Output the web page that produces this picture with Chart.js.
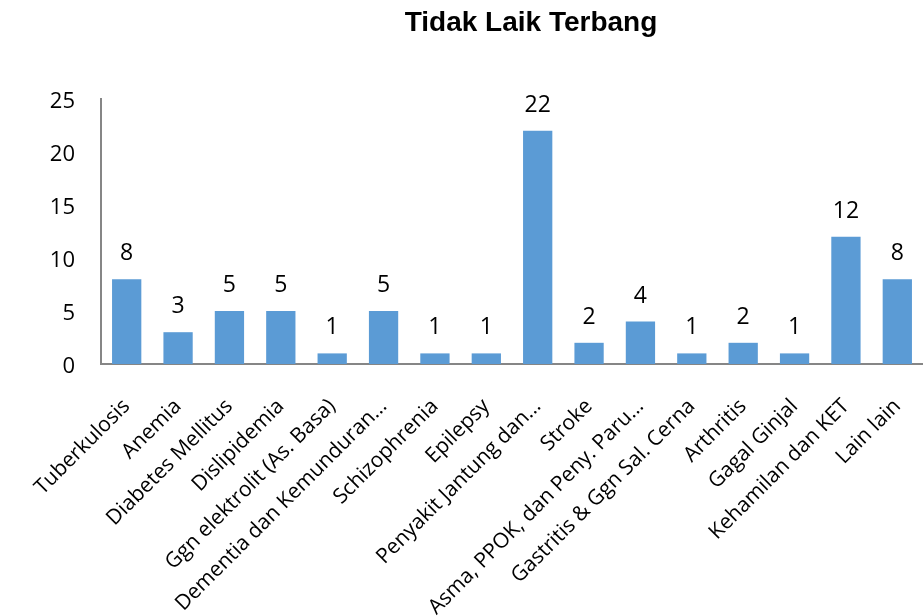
<!DOCTYPE html>
<html>
<head>
<meta charset="utf-8">
<script src="https://cdn.jsdelivr.net/npm/chart.js@4"></script>
<style>
html,body{margin:0;padding:0;background:#fff;}
#wrap{width:923px;height:616px;position:relative;}
</style>
</head>
<body>
<div id="wrap"><canvas id="c" width="923" height="616"></canvas></div>
<script>
const chartTitle = "Tidak Laik Terbang";
const categories = [
  "Tuberkulosis","Anemia","Diabetes Mellitus","Dislipidemia","Ggn elektrolit (As. Basa)",
  "Dementia dan Kemunduran…","Schizophrenia","Epilepsy","Penyakit Jantung dan…","Stroke",
  "Asma, PPOK, dan Peny. Paru…","Gastritis & Ggn Sal. Cerna","Arthritis","Gagal Ginjal",
  "Kehamilan dan KET","Lain lain"
];
const values = [8,3,5,5,1,5,1,1,22,2,4,1,2,1,12,8];
const yTicks = [0,5,10,15,20,25];

const FONT = "'Open Sans', sans-serif";

const titlePlugin = {
  id:'titlePlugin',
  afterDraw(chart){
    const ctx = chart.ctx;
    ctx.save();
    ctx.font = "bold 28px 'Liberation Sans', Arial, sans-serif";
    ctx.fillStyle = '#000';
    ctx.textAlign = 'center';
    ctx.textBaseline = 'middle';
    ctx.fillText(chartTitle, 531, 23);
    ctx.restore();
  }
};

const labelPlugin = {
  id:'labelPlugin',
  afterDatasetsDraw(chart){
    const ctx = chart.ctx;
    const meta = chart.getDatasetMeta(0);
    ctx.save();
    ctx.font = "23px " + FONT;
    ctx.fillStyle = '#000';
    ctx.textAlign = 'center';
    ctx.textBaseline = 'alphabetic';
    meta.data.forEach((bar,i)=>{
      ctx.fillText(String(values[i]), bar.x, bar.y - 19);
    });
    ctx.restore();
  }
};

new Chart(document.getElementById('c'), {
  type:'bar',
  data:{
    labels:categories,
    datasets:[{
      data:values,
      backgroundColor:'#5B9BD5',
      borderWidth:0,
      barPercentage:0.57,
      categoryPercentage:1.0
    }]
  },
  options:{
    responsive:false,
    animation:false,
    layout:{padding:{top:99,right:0,left:0,bottom:0}},
    plugins:{legend:{display:false},title:{display:false},tooltip:{enabled:false}},
    scales:{
      x:{
        grid:{display:false,drawTicks:false},
        border:{display:true,color:'#868686',width:2},
        ticks:{
          autoSkip:false,maxRotation:45,minRotation:45,
          color:'#000',padding:30,
          font:{family:FONT,size:21}
        },
        afterFit(scale){ scale.height = 252; scale.paddingLeft = 0; scale.paddingRight = 0; }
      },
      y:{
        min:0,max:25,
        afterBuildTicks(scale){ scale.ticks = yTicks.map(v=>({value:v})); },
        grid:{display:false,drawTicks:false},
        border:{display:true,color:'#868686',width:2},
        ticks:{color:'#000',padding:26,labelOffset:3,font:{family:FONT,size:22}},
        afterFit(scale){ scale.width = 101; scale.paddingTop = 0; scale.paddingBottom = 0; }
      }
    }
  },
  plugins:[titlePlugin,labelPlugin]
});
</script>
</body>
</html>
